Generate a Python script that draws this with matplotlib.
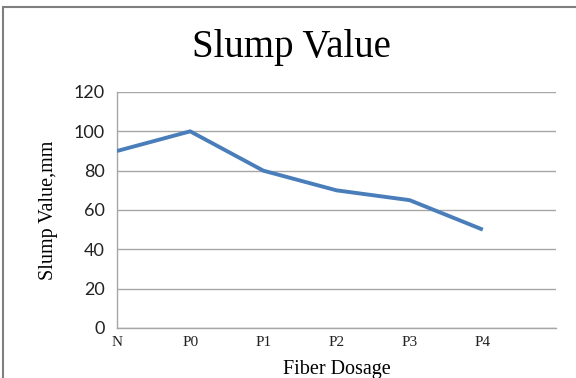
import matplotlib
matplotlib.use("Agg")
import matplotlib.pyplot as plt
from matplotlib.patches import Rectangle

categories = ["N", "P0", "P1", "P2", "P3", "P4"]
slump = [90, 100, 80, 70, 65, 50]
yticks = [0, 20, 40, 60, 80, 100, 120]

W, H = 576, 378
fig = plt.figure(figsize=(W / 100, H / 100), dpi=100)
ax = fig.add_axes([117 / W, 1 - 328 / H, (556 - 117) / W, (328 - 92) / H])

x = list(range(len(categories)))
ax.plot(x, slump, color="#4a7ebb", lw=2.8, solid_capstyle="butt", solid_joinstyle="round", zorder=3)

ax.set_xlim(0, 6)
ax.set_ylim(0, 120)
ax.set_yticks(yticks)
ax.set_xticks(x)
ax.set_xticklabels(categories, family="Liberation Serif", fontsize=11)
for lab in ax.get_yticklabels():
    lab.set_family("Lato")
    lab.set_fontsize(13)
ax.tick_params(axis="both", length=0, pad=6, colors="#222222")
ax.tick_params(axis="y", pad=9)
ax.grid(axis="y", color="#a6a6a6", lw=1)
ax.set_axisbelow(True)
for s in ["top", "right"]:
    ax.spines[s].set_visible(False)
for s in ["left", "bottom"]:
    ax.spines[s].set_color("#a6a6a6")
    ax.spines[s].set_linewidth(1)

ax.set_xlabel("Fiber Dosage", family="Liberation Serif", fontsize=14.5, labelpad=8)
ax.set_ylabel("Slump Value,mm", family="Liberation Serif", fontsize=14.5, labelpad=11)
fig.text(291 / W, 1 - 47 / H, "Slump Value", family="Liberation Serif",
         fontsize=28, ha="center", va="center")

fig.patches.append(Rectangle((3 / W, -0.1), 1.2, 1 - 7 / H + 0.1, transform=fig.transFigure,
                             fill=False, edgecolor="#7f7f7f", lw=1.5, figure=fig))

fig.savefig("out.png", dpi=100)
